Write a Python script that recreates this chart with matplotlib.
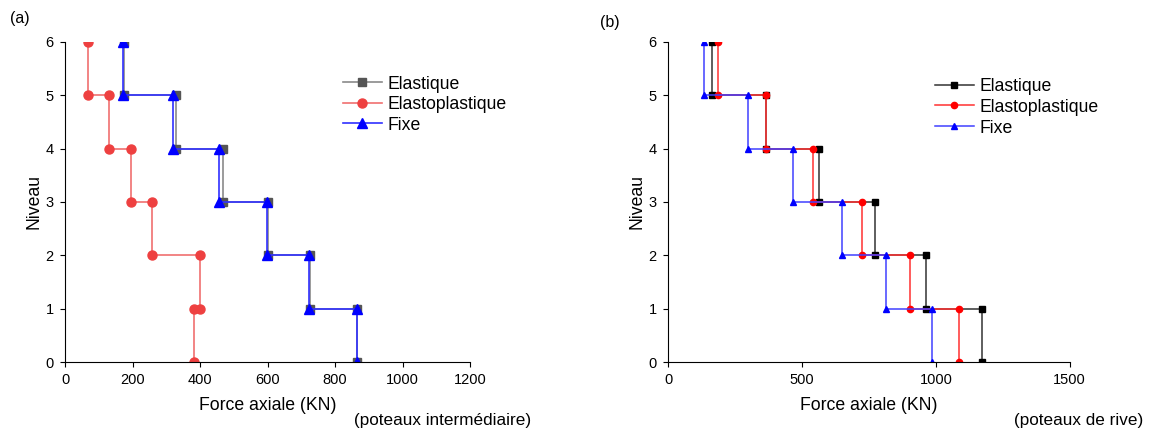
import numpy as np
import matplotlib.pyplot as plt

plt.rcParams['font.family'] = ['Liberation Sans', 'DejaVu Sans']

# levels (top to bottom) and story axial forces (KN), story 6-5 first
levels = [6, 5, 4, 3, 2, 1, 0]
labels = ['Elastique', 'Elastoplastique', 'Fixe']

# (a) poteaux intermediaire
a_elastique = [175, 329, 467, 600, 726, 864]
a_elastoplastique = [67, 130, 195, 258, 400, 383]
a_fixe = [173, 319, 455, 598, 724, 864]

# (b) poteaux de rive
b_elastique = [165, 364, 562, 771, 964, 1174]
b_elastoplastique = [186, 364, 540, 725, 902, 1087]
b_fixe = [135, 299, 468, 648, 815, 984]


def steps(forces):
    x = np.repeat(forces, 2)
    y = np.repeat(levels, 2)[1:-1]
    return x, y


fig = plt.figure(figsize=(11.51, 4.32), dpi=100)
ax1 = fig.add_axes([0.0565, 0.162, 0.352, 0.741])
ax2 = fig.add_axes([0.5804, 0.162, 0.349, 0.741])

styles_a = [
    dict(color='#8a8a8a', mfc='#555555', mec='#555555', marker='s', ms=5.5),
    dict(color='#f07070', mfc='#ee4040', mec='#ee4040', marker='o', ms=6.5),
    dict(color='#3030ff', mfc='#0000ff', mec='#0000ff', marker='^', ms=7),
]
styles_b = [
    dict(color='#333333', mfc='#000000', mec='#000000', marker='s', ms=4),
    dict(color='#ff3030', mfc='#ff0000', mec='#ff0000', marker='o', ms=4.5),
    dict(color='#4040ff', mfc='#0000ff', mec='#0000ff', marker='^', ms=5),
]

for data, st, lab in zip([a_elastique, a_elastoplastique, a_fixe], styles_a, labels):
    x, y = steps(data)
    ax1.plot(x, y, lw=1.2, label=lab, **st)

for data, st, lab in zip([b_elastique, b_elastoplastique, b_fixe], styles_b, labels):
    x, y = steps(data)
    ax2.plot(x, y, lw=1.1, label=lab, **st)

ax1.set_xlim(0, 1200)
ax1.set_xticks(range(0, 1201, 200))
ax2.set_xlim(0, 1500)
ax2.set_xticks(range(0, 1501, 500))

for ax in (ax1, ax2):
    ax.set_ylim(0, 6)
    ax.set_yticks(range(0, 7))
    ax.spines['top'].set_visible(False)
    ax.spines['right'].set_visible(False)
    ax.tick_params(direction='out', length=3.6, pad=4.5, labelsize=10.5)
    ax.set_xlabel('Force axiale (KN)', fontsize=12.7, labelpad=7)
    ax.set_ylabel('Niveau', fontsize=12.7, labelpad=2)

ax1.legend(loc='upper left', bbox_to_anchor=(0.686, 0.895), frameon=False,
           borderaxespad=0, borderpad=0,
           fontsize=12.7, handlelength=2.2, labelspacing=0.2, handletextpad=0.35)
ax2.legend(loc='upper left', bbox_to_anchor=(0.664, 0.888), frameon=False,
           borderaxespad=0, borderpad=0,
           fontsize=12.7, handlelength=2.2, labelspacing=0.22, handletextpad=0.35)

fig.text(10 / 1151, 1 - 18 / 432, '(a)', fontsize=11.5, va='center')
fig.text(600 / 1151, 1 - 22 / 432, '(b)', fontsize=11.5, va='center')
fig.text(354 / 1151, 1 - 420 / 432, '(poteaux intermédiaire)', fontsize=12.3, va='center')
fig.text(1014 / 1151, 1 - 420 / 432, '(poteaux de rive)', fontsize=12.3, va='center')

fig.savefig('out.png', dpi=100)
